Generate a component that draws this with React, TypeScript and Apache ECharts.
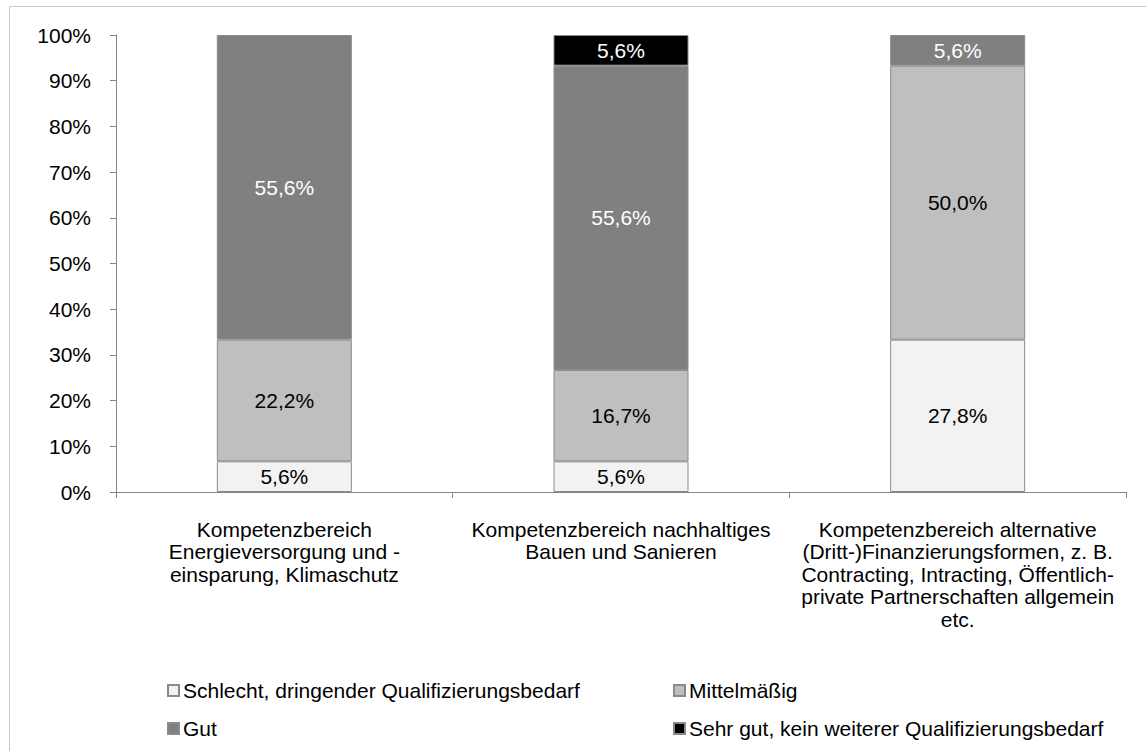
import React, { useEffect, useRef } from "react";
import * as echarts from "echarts";

// Categories (x axis), already broken into lines
const categories = [
  "Kompetenzbereich\nEnergieversorgung und -\neinsparung, Klimaschutz",
  "Kompetenzbereich nachhaltiges\nBauen und Sanieren",
  "Kompetenzbereich alternative\n(Dritt-)Finanzierungsformen, z. B.\nContracting, Intracting, Öffentlich-\nprivate Partnerschaften allgemein\netc.",
];

// Rating levels
const seriesNames = [
  "Schlecht, dringender Qualifizierungsbedarf",
  "Mittelmäßig",
  "Gut",
  "Sehr gut, kein weiterer Qualifizierungsbedarf",
];

// Answer shares in percent per category
const schlecht = [5.6, 5.6, 27.8];
const mittelmaessig = [22.2, 16.7, 50.0];
const gut = [55.6, 55.6, 5.6];
const sehrGut = [0, 5.6, 0];

const rawSeries = [schlecht, mittelmaessig, gut, sehrGut];

const fillColors = ["#f2f2f2", "#bfbfbf", "#808080", "#000000"];
const labelColors = ["#000000", "#000000", "#ffffff", "#ffffff"];

const FONT = "'Liberation Sans', Arial, Helvetica, sans-serif";
const FS = 21;

// Column totals used to stack each bar to 100 %
const totals = categories.map((_, i) =>
  rawSeries.reduce((s, arr) => s + arr[i], 0)
);

const fmt = (v: number) => v.toFixed(1).replace(".", ",") + "%";

export default function App() {
  const ref = useRef<HTMLDivElement>(null);

  useEffect(() => {
    if (!ref.current) return;
    const chart = echarts.init(ref.current, undefined, { renderer: "svg" });

    const series = rawSeries.map((arr, si) => ({
      name: seriesNames[si],
      type: "bar",
      stack: "total",
      barWidth: 135,
      data: arr.map((v, i) => (v === 0 ? "-" : (v / totals[i]) * 100)),
      itemStyle: {
        color: fillColors[si],
        borderColor: "#8a8a8a",
        borderWidth: 1,
      },
      label: {
        show: true,
        position: "inside",
        color: labelColors[si],
        fontFamily: FONT,
        fontSize: FS,
        formatter: (p: any) => (arr[p.dataIndex] ? fmt(arr[p.dataIndex]) : ""),
      },
      emphasis: { disabled: true },
    }));

    const legendPos = [
      { left: 162, top: 675 },
      { left: 668, top: 675 },
      { left: 162, top: 713 },
      { left: 668, top: 713 },
    ];

    chart.setOption({
      animation: false,
      textStyle: { fontFamily: FONT },
      grid: { left: 116, right: 20, top: 35, bottom: 259, containLabel: false },
      xAxis: {
        type: "category",
        data: categories,
        axisLine: { lineStyle: { color: "#868686", width: 1 } },
        axisTick: { show: true, length: 6, lineStyle: { color: "#868686" } },
        axisLabel: {
          color: "#000",
          fontFamily: FONT,
          fontSize: FS,
          lineHeight: 22.5,
          margin: 26,
          interval: 0,
          align: "center",
        },
      },
      yAxis: {
        type: "value",
        min: 0,
        max: 100,
        interval: 10,
        splitLine: { show: false },
        axisLine: { show: true, lineStyle: { color: "#868686", width: 1 } },
        axisTick: { show: true, length: 6, lineStyle: { color: "#868686" } },
        axisLabel: {
          color: "#000",
          fontFamily: FONT,
          fontSize: FS,
          margin: 25,
          formatter: "{value}%",
        },
      },
      legend: seriesNames.map((name, i) => ({
        data: [name],
        left: legendPos[i].left,
        top: legendPos[i].top,
        icon: "rect",
        itemWidth: 11,
        itemHeight: 11,
        itemGap: 0,
        selectedMode: false,
        textStyle: { color: "#000", fontFamily: FONT, fontSize: FS, padding: [0, 0, 0, -1] },
      })),
      graphic: [
        {
          type: "rect",
          silent: true,
          shape: { x: 9.5, y: 6.5, width: 1300, height: 900 },
          style: { fill: "none", stroke: "#c8c8c8", lineWidth: 1 },
        },
      ],
      series,
    });

    return () => chart.dispose();
  }, []);

  return (
    <div
      ref={ref}
      style={{ position: "absolute", left: 0, top: 0, width: 1146, height: 751, background: "#fff" }}
    />
  );
}
